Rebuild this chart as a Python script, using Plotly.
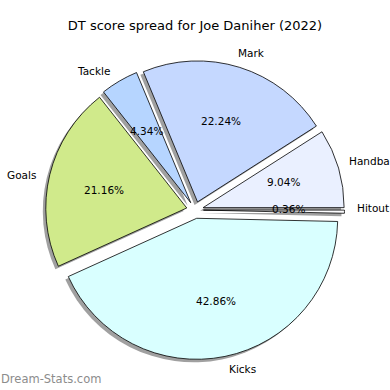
import numpy as np
import plotly.graph_objects as go

# ---- data ----
labels = ["Hitout", "Handball", "Mark", "Tackle", "Goals", "Kicks"]
values = [0.36, 9.04, 22.24, 4.34, 21.16, 42.86]
colors = ["#fdfdff", "#eaf0ff", "#c5d8ff", "#b6d5ff", "#d0ea8b", "#d9ffff"]
title = "DT score spread for Joe Daniher (2022)"
watermark = "Dream-Stats.com"

W = H = 390
PULL = 0.06
R = 141.0               # pie radius in px
CX, CY = 195.0, 210.0   # pie centre (px from top-left)
SH = (-3.0, 3.0)        # shadow offset px (x right, y down)

def dom(cx, cy, half):
    return dict(x=[(cx - half) / W, (cx + half) / W],
                y=[(H - cy - half) / H, (H - cy + half) / H])

half_pie = R * (1 + PULL)

fig = go.Figure()
# shadow
fig.add_trace(go.Pie(
    labels=labels, values=values, sort=False, direction="counterclockwise",
    rotation=90, pull=[PULL] * len(values),
    marker=dict(colors=["#a0a0a0"] * len(values), line=dict(width=0)),
    textinfo="none", hoverinfo="skip", showlegend=False,
    domain=dom(CX + SH[0], CY + SH[1], half_pie),
))
# main pie
fig.add_trace(go.Pie(
    labels=labels, values=values, sort=False, direction="counterclockwise",
    rotation=90, pull=[PULL] * len(values),
    marker=dict(colors=colors, line=dict(color="black", width=0.8)),
    textinfo="none", showlegend=False,
    domain=dom(CX, CY, half_pie),
))

# text placement on cartesian axes in units of the pie radius
v = np.array(values)
total = v.sum()
mid = np.radians((np.cumsum(v) - v / 2) / total * 360.0)
pct_text = [f"{x / total * 100:.2f}%" for x in v]

font = dict(family="DejaVu Sans", size=10.5, color="black")
ann = []
for t, p in zip(mid, pct_text):
    rr = 0.6 + PULL
    ann.append(dict(x=rr * np.cos(t), y=rr * np.sin(t), xref="x", yref="y", text=p,
                    showarrow=False, xanchor="center", yanchor="middle", font=font))
for t, lab in zip(mid, labels):
    rr = 1.1 + PULL
    right = np.cos(t) > 0
    ann.append(dict(x=rr * np.cos(t), y=rr * np.sin(t), xref="x", yref="y", text=lab,
                    showarrow=False, xanchor="left" if right else "right",
                    xshift=-3 if right else 2, borderpad=0,
                    yanchor="middle", font=font))
ann.append(dict(text=watermark, x=0, y=0, xref="paper", yref="paper",
                xanchor="left", yanchor="bottom", xshift=-1, yshift=2, showarrow=False,
                font=dict(family="DejaVu Sans", size=11.5, color="#8c8c8c")))

fig.update_layout(
    width=W, height=H, margin=dict(l=0, r=0, t=0, b=0),
    paper_bgcolor="white", plot_bgcolor="rgba(0,0,0,0)",
    xaxis=dict(visible=False, range=[-CX / R, (W - CX) / R], domain=[0, 1], fixedrange=True),
    yaxis=dict(visible=False, range=[-(H - CY) / R, CY / R], domain=[0, 1], fixedrange=True),
    title=dict(text=title, x=0.5, xanchor="center", y=1 - 25 / H, yanchor="middle",
               font=dict(family="DejaVu Sans", size=13, color="black")),
    annotations=ann,
)

fig.write_html("out.html")
